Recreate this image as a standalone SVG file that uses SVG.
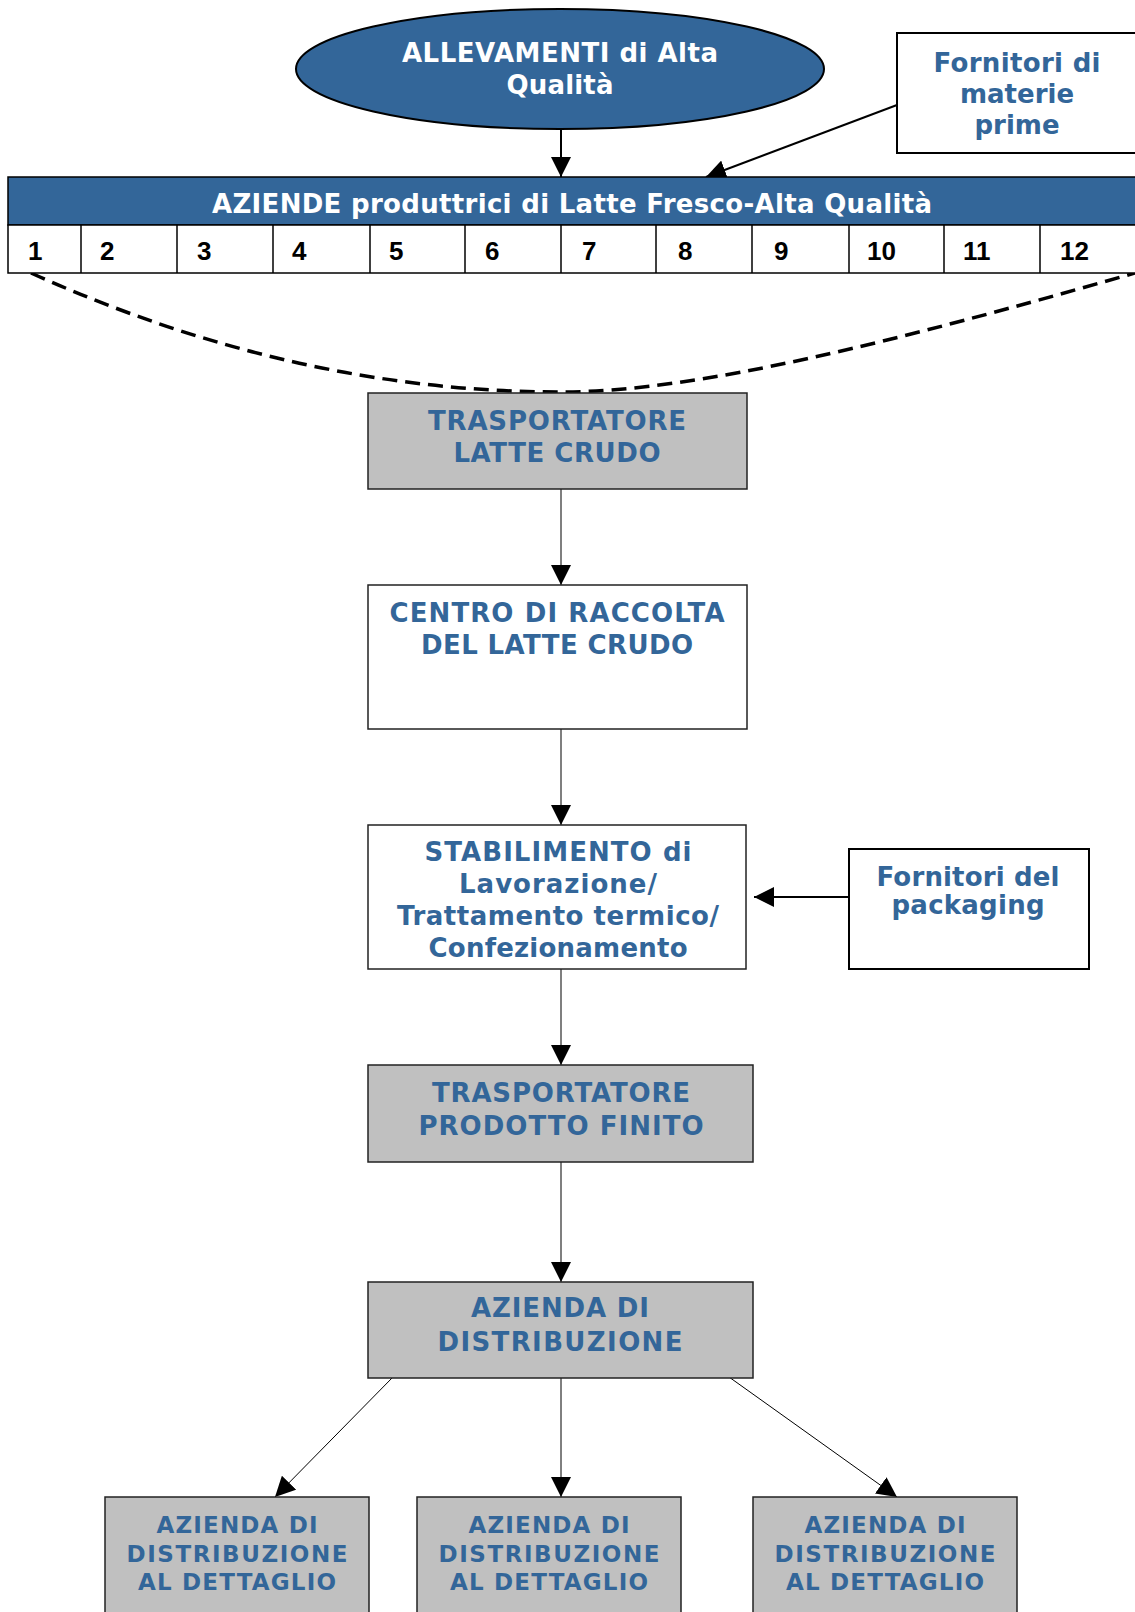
<svg xmlns="http://www.w3.org/2000/svg" width="1135" height="1612" viewBox="0 0 1135 1612">
<defs>
<marker id="ah" markerUnits="userSpaceOnUse" markerWidth="20" markerHeight="20" viewBox="0 0 20 20" refX="20" refY="10" orient="auto"><path d="M0,0 L20,10 L0,20 z" fill="#000"/></marker>
</defs>
<style>
.t{font-family:"DejaVu Sans",Verdana,sans-serif;font-weight:bold;fill:#336699;text-anchor:middle}
.tw{font-family:"DejaVu Sans",Verdana,sans-serif;font-weight:bold;fill:#ffffff;text-anchor:middle}
.n{font-family:"Liberation Sans",Arial,sans-serif;font-weight:bold;font-size:26px;fill:#000}
.bx{stroke:#222;stroke-width:1.5}
.g{fill:#c0c0c0}
.wh{fill:#ffffff}
.c{fill:none;marker-end:url(#ah)}
.dv{stroke:#000;stroke-width:1.5}
</style>
<rect width="1135" height="1612" fill="#ffffff"/>

<g id="connectors">
  <line class="c" x1="561" y1="129" x2="561" y2="177" stroke="#000" stroke-width="2"/>
  <line class="c" x1="897" y1="105" x2="706" y2="177" stroke="#000" stroke-width="2"/>
  <path d="M31,273 Q295,392 560,392 C700,392 900,340 1135,273" fill="none" stroke="#000" stroke-width="3.5" stroke-dasharray="15 8"/>
  <line class="c" x1="561" y1="489" x2="561" y2="585" stroke="#555" stroke-width="1.5"/>
  <line class="c" x1="561" y1="729" x2="561" y2="825" stroke="#555" stroke-width="1.5"/>
  <line class="c" x1="849" y1="897" x2="754" y2="897" stroke="#000" stroke-width="2"/>
  <line class="c" x1="561" y1="969" x2="561" y2="1065" stroke="#555" stroke-width="1.5"/>
  <line class="c" x1="561" y1="1162" x2="561" y2="1282" stroke="#555" stroke-width="1.5"/>
  <line class="c" x1="393" y1="1377" x2="275" y2="1497" stroke="#000" stroke-width="1"/>
  <line class="c" x1="561" y1="1377" x2="561" y2="1497" stroke="#000" stroke-width="1"/>
  <line class="c" x1="729" y1="1377" x2="897" y2="1497" stroke="#000" stroke-width="1"/>
</g>

<g id="allevamenti">
  <ellipse cx="560" cy="69" rx="264" ry="60" fill="#336699" stroke="#000" stroke-width="2"/>
  <text class="tw" x="560" y="62" font-size="26" textLength="316">ALLEVAMENTI di Alta</text>
  <text class="tw" x="560" y="94" font-size="26" textLength="107">Qualità</text>
</g>

<g id="fornitori-materie-prime">
  <rect x="897" y="33" width="245" height="120" fill="#fff" stroke="#000" stroke-width="2"/>
  <text class="t" x="1017" y="72" font-size="26" textLength="167">Fornitori di</text>
  <text class="t" x="1017" y="103" font-size="26">materie</text>
  <text class="t" x="1017" y="134" font-size="26">prime</text>
</g>

<g id="aziende-produttrici">
  <rect x="8" y="177" width="1135" height="48" fill="#336699" class="dv"/>
  <rect x="8" y="225" width="1135" height="48" fill="#fff" class="dv"/>
  <text class="tw" x="572" y="213" font-size="26" textLength="720">AZIENDE produttrici di Latte Fresco-Alta Qualità</text>
  <g class="dv">
    <line x1="81" y1="225" x2="81" y2="273"/>
    <line x1="177" y1="225" x2="177" y2="273"/>
    <line x1="273" y1="225" x2="273" y2="273"/>
    <line x1="370" y1="225" x2="370" y2="273"/>
    <line x1="465" y1="225" x2="465" y2="273"/>
    <line x1="561" y1="225" x2="561" y2="273"/>
    <line x1="656" y1="225" x2="656" y2="273"/>
    <line x1="752" y1="225" x2="752" y2="273"/>
    <line x1="849" y1="225" x2="849" y2="273"/>
    <line x1="944" y1="225" x2="944" y2="273"/>
    <line x1="1040" y1="225" x2="1040" y2="273"/>
  </g>
  <text class="n" x="28" y="260">1</text>
  <text class="n" x="100" y="260">2</text>
  <text class="n" x="197" y="260">3</text>
  <text class="n" x="292" y="260">4</text>
  <text class="n" x="389" y="260">5</text>
  <text class="n" x="485" y="260">6</text>
  <text class="n" x="582" y="260">7</text>
  <text class="n" x="678" y="260">8</text>
  <text class="n" x="774" y="260">9</text>
  <text class="n" x="867" y="260">10</text>
  <text class="n" x="963" y="260">11</text>
  <text class="n" x="1060" y="260">12</text>
</g>

<g id="trasportatore-latte-crudo">
  <rect x="368" y="393" width="379" height="96" class="g bx"/>
  <text class="t" x="557" y="430" font-size="26" textLength="258">TRASPORTATORE</text>
  <text class="t" x="557" y="462" font-size="26" textLength="207">LATTE CRUDO</text>
</g>

<g id="centro-raccolta">
  <rect x="368" y="585" width="379" height="144" class="wh bx"/>
  <text class="t" x="557" y="622" font-size="26" textLength="335">CENTRO DI RACCOLTA</text>
  <text class="t" x="557" y="654" font-size="26" textLength="272">DEL LATTE CRUDO</text>
</g>

<g id="stabilimento">
  <rect x="368" y="825" width="378" height="144" class="wh bx"/>
  <text class="t" x="558" y="861" font-size="26" textLength="267">STABILIMENTO di</text>
  <text class="t" x="558" y="893" font-size="26" textLength="198">Lavorazione/</text>
  <text class="t" x="558" y="925" font-size="26" textLength="322">Trattamento termico/</text>
  <text class="t" x="558" y="957" font-size="26" textLength="259">Confezionamento</text>
</g>

<g id="fornitori-packaging">
  <rect x="849" y="849" width="240" height="120" fill="#fff" stroke="#000" stroke-width="2"/>
  <text class="t" x="968" y="886" font-size="26" textLength="183">Fornitori del</text>
  <text class="t" x="968" y="914" font-size="26" textLength="153">packaging</text>
</g>

<g id="trasportatore-prodotto-finito">
  <rect x="368" y="1065" width="385" height="97" class="g bx"/>
  <text class="t" x="561" y="1102" font-size="26" textLength="258">TRASPORTATORE</text>
  <text class="t" x="561" y="1135" font-size="26" textLength="285">PRODOTTO FINITO</text>
</g>

<g id="azienda-distribuzione">
  <rect x="368" y="1282" width="385" height="96" class="g bx"/>
  <text class="t" x="560" y="1317" font-size="26" textLength="178">AZIENDA DI</text>
  <text class="t" x="560" y="1351" font-size="26" textLength="245">DISTRIBUZIONE</text>
</g>

<g id="dettaglio-1">
  <rect x="105" y="1497" width="264" height="130" class="g bx"/>
  <text class="t" x="237" y="1533" font-size="23" textLength="161">AZIENDA DI</text>
  <text class="t" x="237" y="1562" font-size="23" textLength="221">DISTRIBUZIONE</text>
  <text class="t" x="237" y="1590" font-size="23" textLength="198">AL DETTAGLIO</text>
</g>

<g id="dettaglio-2">
  <rect x="417" y="1497" width="264" height="130" class="g bx"/>
  <text class="t" x="549" y="1533" font-size="23" textLength="161">AZIENDA DI</text>
  <text class="t" x="549" y="1562" font-size="23" textLength="221">DISTRIBUZIONE</text>
  <text class="t" x="549" y="1590" font-size="23" textLength="198">AL DETTAGLIO</text>
</g>

<g id="dettaglio-3">
  <rect x="753" y="1497" width="264" height="130" class="g bx"/>
  <text class="t" x="885" y="1533" font-size="23" textLength="161">AZIENDA DI</text>
  <text class="t" x="885" y="1562" font-size="23" textLength="221">DISTRIBUZIONE</text>
  <text class="t" x="885" y="1590" font-size="23" textLength="198">AL DETTAGLIO</text>
</g>
</svg>
